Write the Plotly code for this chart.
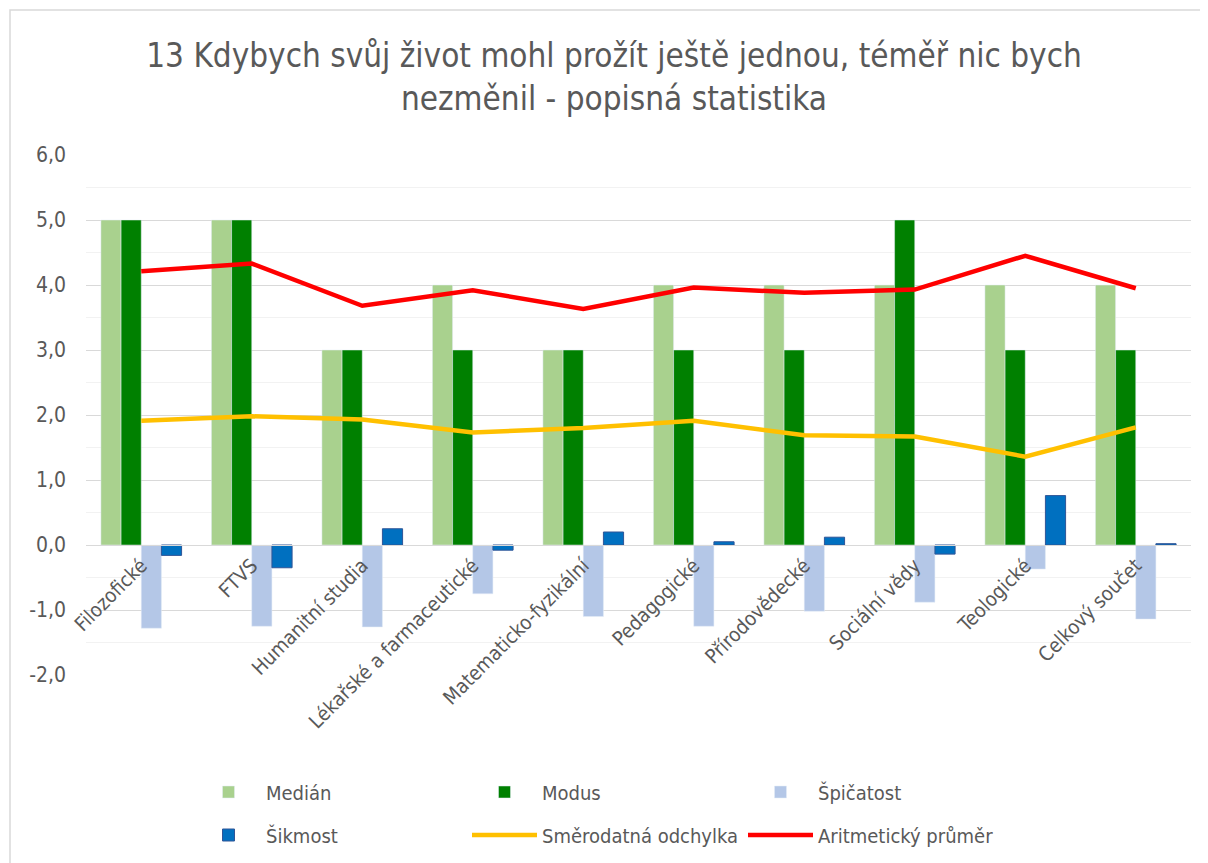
import plotly.graph_objects as go

categories = ["Filozofické", "FTVS", "Humanitní studia", "Lékařské a farmaceutické",
              "Matematicko-fyzikální", "Pedagogické", "Přírodovědecké", "Sociální vědy",
              "Teologické", "Celkový součet"]
median = [5, 5, 3, 4, 3, 4, 4, 4, 4, 4]
modus = [5, 5, 3, 3, 3, 3, 3, 5, 3, 3]
spicatost = [-1.28, -1.25, -1.26, -0.75, -1.10, -1.25, -1.02, -0.88, -0.37, -1.14]
sikmost = [-0.16, -0.35, 0.25, -0.08, 0.20, 0.05, 0.12, -0.14, 0.76, 0.02]
smerodatna = [1.91, 1.98, 1.93, 1.73, 1.80, 1.91, 1.69, 1.67, 1.36, 1.81]
prumer = [4.21, 4.33, 3.68, 3.92, 3.63, 3.96, 3.88, 3.93, 4.45, 3.95]
y_ticks = [-2, -1, 0, 1, 2, 3, 4, 5, 6]
y_tick_text = [f"{v:.1f}".replace(".", ",") for v in y_ticks]

O = 8  # page body margin
W, H = 1200, 855
# target page coordinates
L, R, T, B = 86, 1191, 155, 675
FONT = "Liberation Sans Narrow, DejaVu Sans Condensed, Liberation Sans, sans-serif"
GRAY = "#595959"

fig = go.Figure()
fig.add_trace(go.Bar(name="Medián", x=categories, y=median, marker_color="#A9D18E", legend="legend"))
fig.add_trace(go.Bar(name="Modus", x=categories, y=modus, marker_color="#008000", legend="legend"))
fig.add_trace(go.Bar(name="Špičatost", x=categories, y=spicatost, marker_color="#B4C7E7", legend="legend"))
fig.add_trace(go.Bar(name="Šikmost", x=categories, y=sikmost, marker_color="#0070C0",
                     marker_line=dict(color="#2F5597", width=1), legend="legend2"))
fig.add_trace(go.Scatter(name="Směrodatná odchylka", x=categories, y=smerodatna, mode="lines",
                         line=dict(color="#FFC000", width=4.5), legend="legend2"))
fig.add_trace(go.Scatter(name="Aritmetický průměr", x=categories, y=prumer, mode="lines",
                         line=dict(color="#FF0000", width=4.5), legend="legend2"))

def px2x(px):
    return (px - L) / (R - L)

def px2y(py):
    return (B - py) / (B - T)

legend_common = dict(orientation="h", font=dict(family=FONT, size=20, color=GRAY),
                     bgcolor="rgba(0,0,0,0)", xanchor="left", yanchor="middle",
                     itemwidth=65, traceorder="normal", entrywidth=196, entrywidthmode="pixels")

fig.update_layout(
    width=W, height=H,
    margin=dict(l=L - O, r=W - (R - O), t=T - O, b=H - (B - O), autoexpand=False),
    paper_bgcolor="white", plot_bgcolor="white",
    barmode="group", bargap=0.27, bargroupgap=0,
    title=dict(text="13 Kdybych svůj život mohl prožít ještě jednou, téměř nic bych<br>nezměnil - popisná statistika",
               x=(614 - O) / W, xref="container", xanchor="center",
               yref="container", y=1 - (67 - O) / H, yanchor="middle",
               font=dict(family=FONT, size=33, color=GRAY)),
    xaxis=dict(anchor="free", position=px2y(545), showline=True, linecolor="#D9D9D9", linewidth=1,
               tickangle=-45, tickfont=dict(family=FONT, size=20, color=GRAY), ticks="",
               automargin=False),
    yaxis=dict(range=[-2, 6], tickvals=y_ticks, ticktext=y_tick_text, showgrid=True,
               gridcolor="#D9D9D9", gridwidth=1, zeroline=False, automargin=False,
               minor=dict(dtick=0.5, showgrid=True, gridcolor="#F2F2F2", gridwidth=1),
               tickfont=dict(family=FONT, size=21, color=GRAY), ticklabelstandoff=19),
    legend=dict(x=px2x(191), y=px2y(792), **legend_common),
    legend2=dict(x=px2x(191), y=px2y(835), **legend_common),
    shapes=[dict(type="rect", xref="paper", yref="paper",
                 x0=px2x(10), x1=px2x(1230), y0=px2y(900), y1=px2y(10),
                 line=dict(color="#D9D9D9", width=1.5), fillcolor="rgba(0,0,0,0)", layer="below")],
)

fig.write_html("out.html")
